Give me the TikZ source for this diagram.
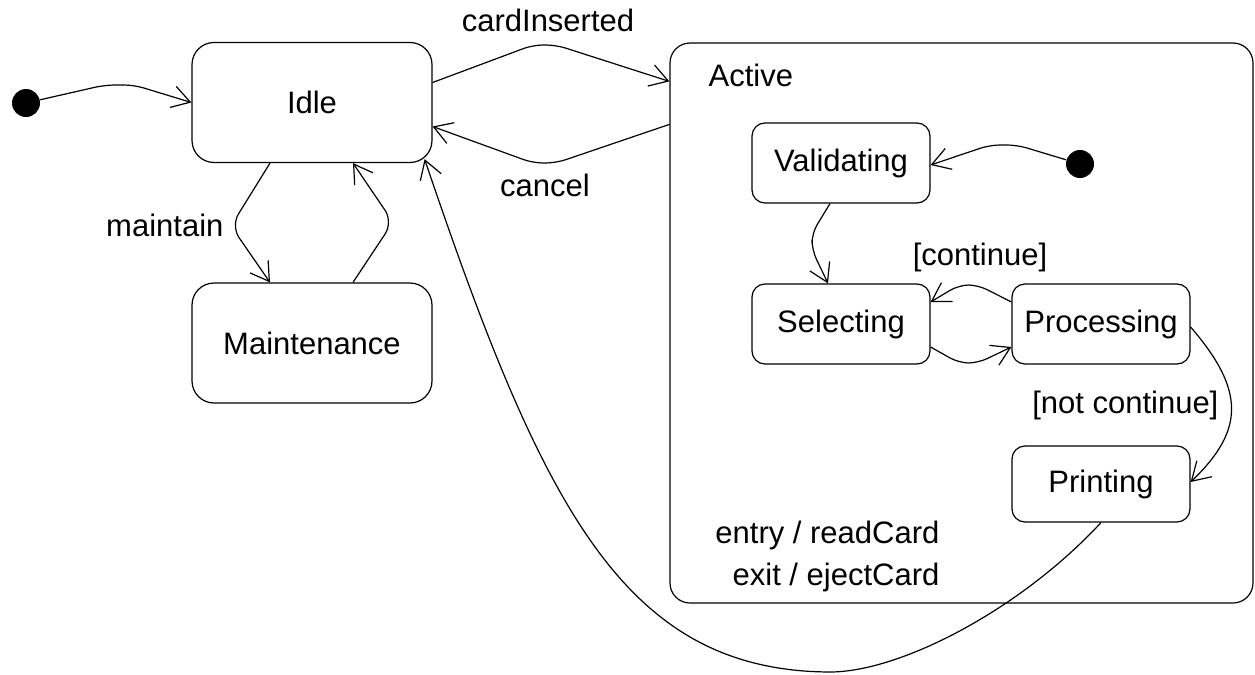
\documentclass[tikz,border=0pt]{standalone}
\usepackage{fontspec}
\setmainfont{Liberation Sans}
\usetikzlibrary{arrows.meta}
\begin{document}
\begin{tikzpicture}[x=0.5pt,y=-0.5pt,
  font=\fontsize{15.5}{21}\selectfont,
  line width=0.6pt,
  bigstate/.style={draw, rounded corners=11pt, minimum width=120pt, minimum height=60pt, inner sep=0pt},
  state/.style={draw, rounded corners=6.5pt, minimum width=89pt, minimum height=40pt, inner sep=0pt},
  composite/.style={draw, rounded corners=10pt, minimum width=291.5pt, minimum height=280pt, inner sep=0pt},
  initial/.style={circle, fill=black, minimum size=14pt, inner sep=0pt},
  trans/.style={-{Straight Barb[length=9pt,width=11pt]}, rounded corners=5pt},
  lbl/.style={inner sep=1pt}
]
\useasboundingbox (0,0) rectangle (1255,675);

% states
\node[composite] (active) at (961.5,323) {};
\node[lbl, anchor=west] (activelbl) at (706,75) {Active};
\node[bigstate] (idle) at (312,102.5) {Idle};
\node[bigstate] (maint) at (312,343) {Maintenance};
\node[state] (valid) at (841,163) {Validating};
\node[state] (select) at (841,324) {Selecting};
\node[state] (proc) at (1101,324) {Processing};
\node[state, minimum height=38pt] (print) at (1101,484) {Printing};
\node[initial] (init1) at (26,103) {};
\node[initial] (init2) at (1080,164) {};
\node[lbl, anchor=east, align=right] (actions) at (942,556) {entry / readCard\\exit / ejectCard};

% transitions of the outer machine
\draw[trans] (init1) -- (105,85) -- (134,85) -- (idle.west);
\draw[trans] ([yshift=10pt]idle.east) -- (533,45) -- (556,45) -- ([yshift=-19.5pt]active.north west);
\node[lbl] (card) at (548,20) {cardInserted};
\draw[trans] ([yshift=-41pt]active.north west) -- (556,163) -- (533,163) -- ([yshift=-12pt]idle.east);
\node[lbl] (cancel) at (545,185) {cancel};
\draw[trans, rounded corners=7pt] ([xshift=-21pt]idle.south) -- (231,226) -- ([xshift=-21pt]maint.north);
\node[lbl, anchor=east] (maintain) at (226,225) {maintain};
\draw[trans, rounded corners=7pt] ([xshift=20.5pt]maint.north) -- (393,222) -- ([xshift=20.5pt]idle.south);

% transitions inside Active
\draw[trans] (init2) -- (1017,145) -- (990,145) -- ([yshift=-1pt]valid.east);
\draw[trans] ([xshift=-5.5pt]valid.south) -- (812,233) -- (812,250) -- ([xshift=-6.5pt]select.north);
\draw[trans] ([yshift=11pt]proc.west) -- (978,285) -- (959,285) -- ([yshift=11pt]select.east);
\node[lbl] (cont) at (980,257) {[continue]};
\draw[trans] ([yshift=-11.5pt]select.east) -- (959,363) -- (978,363) -- ([yshift=-11.5pt]proc.west);
\draw[trans] ([yshift=-1.5pt]proc.east) .. controls (1245,390) and (1245,430) .. ([yshift=1pt]print.east);
\node[lbl, anchor=east] (notcont) at (1221,405) {[not continue]};

% leaving Active from Printing
\draw[trans] (print.south) .. controls (1020,610) and (900,672) .. (820,672)
  .. controls (620,660) and (540,500) .. ([shift={(-4pt,2pt)}]idle.south east);
\end{tikzpicture}
\end{document}
